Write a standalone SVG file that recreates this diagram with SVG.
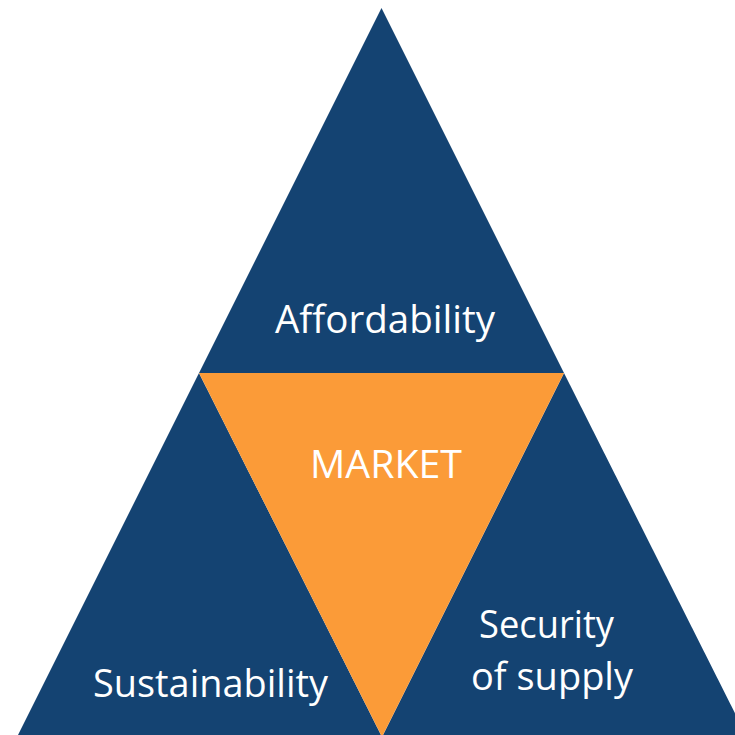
<svg xmlns="http://www.w3.org/2000/svg" width="735" height="735" viewBox="0 0 735 735">
<style>
.blue{fill:#144372}
.orange{fill:#FB9B38}
.lbl{font-family:"Open Sans","Noto Sans","Liberation Sans",sans-serif;font-size:39px;fill:#ffffff}
</style>
<rect width="735" height="735" fill="#ffffff"/>
<g id="affordability">
<polygon class="blue" points="381.5,8 199,373 564,373"/>
<text class="lbl" x="275" y="333" textLength="220" lengthAdjust="spacingAndGlyphs">Affordability</text>
</g>
<g id="sustainability">
<polygon class="blue" points="199,373 17,737 382,737"/>
<text class="lbl" x="93" y="697" textLength="235" lengthAdjust="spacingAndGlyphs">Sustainability</text>
</g>
<g id="security">
<polygon class="blue" points="564,373 382,737 747,737"/>
<text class="lbl" x="479" y="638" textLength="135" lengthAdjust="spacingAndGlyphs">Security</text>
<text class="lbl" x="471" y="690" textLength="162" lengthAdjust="spacingAndGlyphs">of supply</text>
</g>
<g id="market">
<polygon class="orange" points="199,373 564,373 382,737"/>
<text class="lbl" x="310" y="478" textLength="152" lengthAdjust="spacingAndGlyphs">MARKET</text>
</g>
<g id="connectors"></g>
</svg>
